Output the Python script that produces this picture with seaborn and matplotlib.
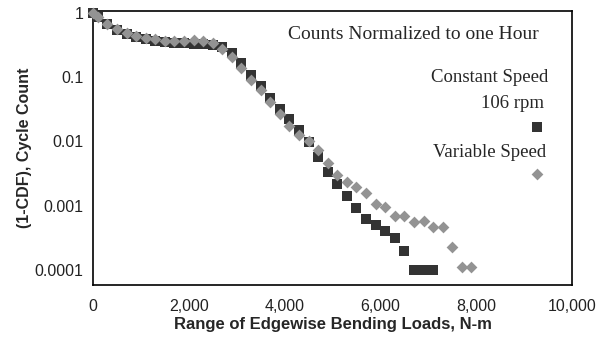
import numpy as np
import pandas as pd
import matplotlib
matplotlib.use("Agg")
import matplotlib.pyplot as plt
import matplotlib.ticker as mticker
import seaborn as sns

# ---- data ----
const_x = [0, 100, 300, 500, 700, 900, 1100, 1300, 1500, 1700, 1900, 2100, 2300, 2500,
           2700, 2900, 3100, 3300, 3500, 3700, 3900, 4100, 4300, 4500, 4700, 4900, 5100,
           5300, 5500, 5700, 5900, 6100, 6300, 6500, 6700, 6900, 7100]
const_y = [1.0, 0.85, 0.66, 0.55, 0.47, 0.42, 0.39, 0.37, 0.35, 0.34, 0.335, 0.33, 0.33, 0.32,
           0.29, 0.238, 0.167, 0.108, 0.073, 0.0475, 0.032, 0.0224, 0.0151, 0.0098, 0.0057,
           0.0034, 0.0022, 0.00142, 0.00092, 0.00062, 0.0005, 0.0004, 0.00031, 0.0002,
           0.0001, 0.0001, 0.0001]

var_x = [0, 100, 300, 500, 700, 900, 1100, 1300, 1500, 1700, 1900, 2100, 2300, 2500,
         2700, 2900, 3100, 3300, 3500, 3700, 3900, 4100, 4300, 4500, 4700, 4900, 5100,
         5300, 5500, 5700, 5900, 6100, 6300, 6500, 6700, 6900, 7100, 7300, 7500, 7700, 7900]
var_y = [1.0, 0.86, 0.67, 0.56, 0.49, 0.44, 0.41, 0.39, 0.37, 0.37, 0.37, 0.38, 0.37, 0.34,
         0.275, 0.206, 0.139, 0.091, 0.063, 0.041, 0.027, 0.0174, 0.0126, 0.0102, 0.0074,
         0.0046, 0.0030, 0.00234, 0.00196, 0.00158, 0.00107, 0.00096, 0.00069, 0.00069,
         0.00056, 0.00057, 0.000465, 0.000465, 0.000228, 0.000111, 0.000111]

x_ticks = [0, 2000, 4000, 6000, 8000, 10000]
y_ticks = [0.0001, 0.001, 0.01, 0.1, 1]
y_tick_labels = ["0.0001", "0.001", "0.01", "0.1", "1"]

title_text = "Counts Normalized to one Hour"
label_const = ["Constant Speed", "106 rpm"]
label_var = "Variable Speed"
xlabel = "Range of Edgewise Bending Loads, N-m"
ylabel = "(1-CDF), Cycle Count"

const_df = pd.DataFrame({"load": const_x, "frac": const_y})
var_df = pd.DataFrame({"load": var_x, "frac": var_y})

sns.set_style("white")
plt.rcParams["font.family"] = ["Liberation Sans", "DejaVu Sans"]

c_dark = "#333333"
c_gray = "#939393"

fig = plt.figure(figsize=(6.07, 3.41), dpi=100)
ax = fig.add_axes([93/607, 1-285/341, (572-93)/607, (285-11)/341])

sns.scatterplot(data=const_df, x="load", y="frac", marker="s", s=60, color=c_dark,
                linewidth=0, ax=ax, clip_on=False, zorder=3)
sns.scatterplot(data=var_df, x="load", y="frac", marker="D", s=36, color=c_gray,
                linewidth=0, ax=ax, clip_on=False, zorder=4)

ax.set_yscale("log")
ax.set_xlim(0, 10000)
ax.set_ylim(5.85e-5, 1.07)

ax.set_xticks(x_ticks)
ax.xaxis.set_major_formatter(mticker.FuncFormatter(lambda v, p: f"{int(v):,}"))
ax.xaxis.set_minor_locator(mticker.MultipleLocator(1000))
ax.set_yticks(y_ticks)
ax.set_yticklabels(y_tick_labels)
ax.yaxis.set_minor_locator(mticker.LogLocator(base=10, subs=np.arange(2, 10)))
ax.yaxis.set_minor_formatter(mticker.NullFormatter())

ax.tick_params(which="both", direction="in", colors="black", labelsize=11.5, width=1)
ax.tick_params(which="major", length=5)
ax.tick_params(which="minor", length=3)
ax.tick_params(axis="x", which="major", pad=10)
ax.tick_params(axis="y", which="major", pad=7)
ax.tick_params(axis="x", which="both", top=False)
ax.tick_params(axis="y", which="both", right=False)
for lab in ax.get_xticklabels() + ax.get_yticklabels():
    lab.set_color("#222222")

for sp in ax.spines.values():
    sp.set_color("black")
    sp.set_linewidth(1.2)

ax.set_xlabel(xlabel, fontsize=12, fontweight="bold", labelpad=2)
ax.set_ylabel(ylabel, fontsize=11.5, fontweight="bold", labelpad=2)

serif = ["Liberation Serif", "DejaVu Serif"]
ax.text(0.668, 0.916, title_text, transform=ax.transAxes, ha="center", va="center",
        fontsize=14, family=serif)
ax.text(0.829, 0.759, label_const[0], transform=ax.transAxes, ha="center", va="center",
        fontsize=13.5, family=serif)
ax.text(0.875, 0.664, label_const[1], transform=ax.transAxes, ha="center", va="center",
        fontsize=13.5, family=serif)
ax.text(0.827, 0.482, label_var, transform=ax.transAxes, ha="center", va="center",
        fontsize=13.5, family=serif)
ax.scatter([0.927], [0.577], marker="s", s=60, color=c_dark, linewidth=0,
           transform=ax.transAxes)
ax.scatter([0.927], [0.405], marker="D", s=36, color=c_gray, linewidth=0,
           transform=ax.transAxes)

legend = ax.get_legend()
if legend is not None:
    legend.remove()

fig.savefig("out.png", dpi=100)
